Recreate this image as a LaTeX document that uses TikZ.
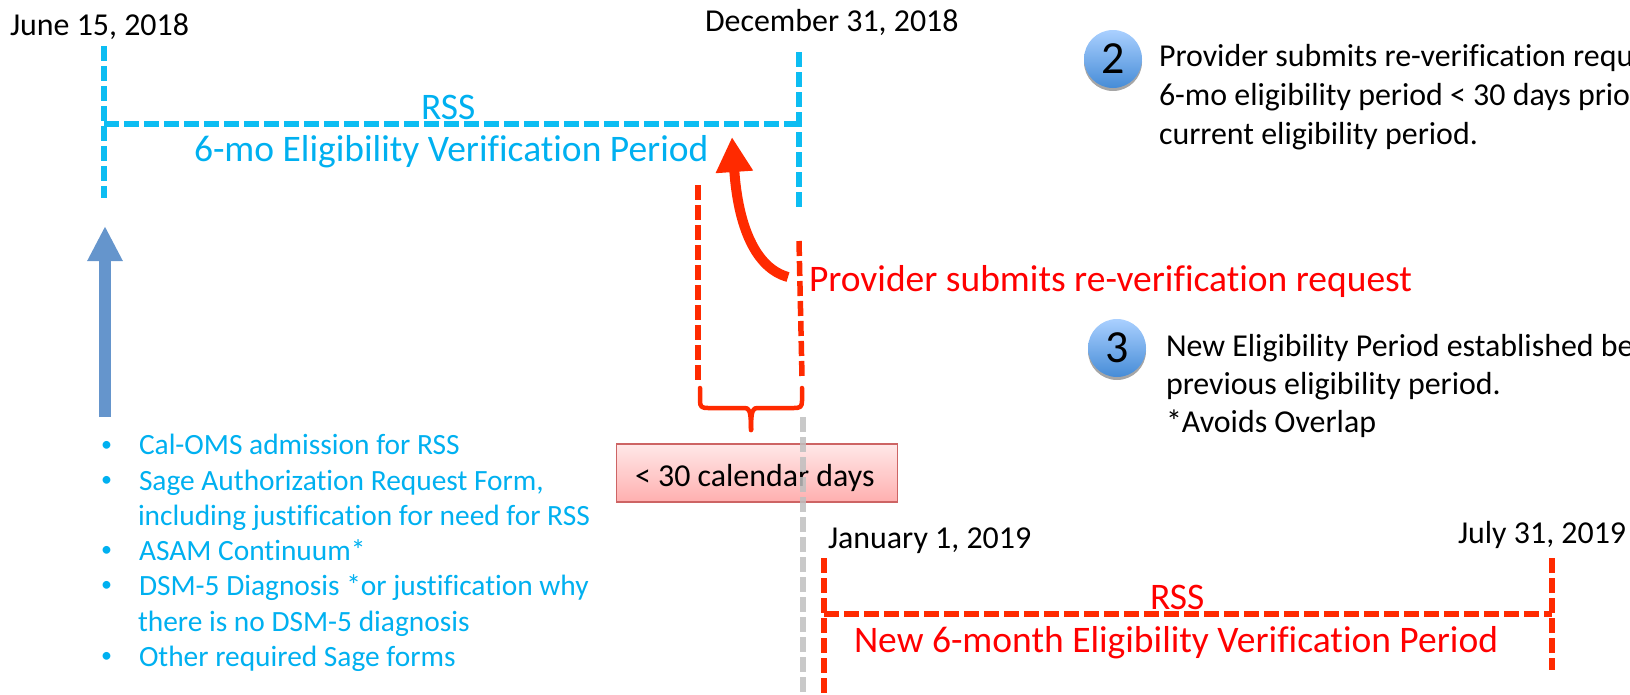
\documentclass[tikz,border=0pt]{standalone}
\usepackage{fontspec}
\setmainfont[Ligatures={NoCommon}]{Carlito}
\usetikzlibrary{arrows.meta,shadows,calc}
\definecolor{cblue}{HTML}{0DBDF2}
\definecolor{sblue}{HTML}{00B0F0}
\definecolor{cred}{HTML}{FF2A00}
\definecolor{tred}{HTML}{FF0000}
\definecolor{arrblue}{HTML}{6595CC}
\tikzset{
  x=1pt,y=-1pt,
  lbl/.style={inner sep=0pt,outer sep=0pt,anchor=base west,font=\fontsize{31.9}{31.9}\selectfont,text=black},
  bluelbl/.style={lbl,text=sblue,font=\fontsize{29.4}{29.4}\selectfont},
  bulletlbl/.style={lbl,text=sblue,font=\fontsize{22}{22}\selectfont},
  bigblue/.style={lbl,text=sblue,font=\fontsize{37.5}{37.5}\selectfont},
  bigred/.style={lbl,text=tred,font=\fontsize{37.5}{37.5}\selectfont},
  bluedash/.style={draw=cblue,line width=5.5pt,dash pattern=on 15pt off 5pt},
  reddash/.style={draw=cred,line width=5.5pt,dash pattern=on 15pt off 5pt},
  greydash/.style={draw=black!25,opacity=.85,line width=5.5pt,dash pattern=on 15pt off 5pt},
  numball/.style={circle,minimum size=58pt,inner sep=0pt,draw=none,
    top color={rgb,255:red,170;green,208;blue,255},bottom color={rgb,255:red,70;green,140;blue,215},
    drop shadow={shadow xshift=0pt,shadow yshift=-3pt,opacity=.35,fill=black},
    font=\fontsize{46}{46}\selectfont,text=black},
  daysbox/.style={draw={rgb,255:red,205;green,100;blue,100},line width=1.5pt,inner sep=0pt,
    top color={rgb,255:red,255;green,232;blue,232},bottom color={rgb,255:red,255;green,175;blue,175}},
}
\begin{document}
\begin{tikzpicture}
\useasboundingbox (0,0) rectangle (1630,694);
\clip (0,0) rectangle (1630,694);
% top timeline
\coordinate (bl1) at (104,46); \coordinate (bl2) at (104,198);
\coordinate (bm1) at (104,124); \coordinate (bm2) at (800,124);
\coordinate (br1) at (799,52); \coordinate (br2) at (799,210);
\draw[bluedash] (bl1) -- (bl2);
\draw[bluedash] (bm1) -- (bm2);
\draw[bluedash] (br1) -- (br2);
\node[lbl] (d1) at (10,35) {June 15, 2018};
\node[lbl] (d2) at (705,31) {December 31, 2018};
\node[bigblue] (rss1) at (421,119) {RSS};
\node[bigblue] (p1) at (194,161) {6-mo Eligibility Verification Period};
% blue arrow
\coordinate (ba1) at (105,417); \coordinate (ba2) at (105,226);
\draw[arrblue,line width=12pt,-{Triangle[length=35pt,width=33pt]}] (ba1) -- (ba2);
% bullets
\node[bulletlbl] (bula) at (101,451) {•};
\node[bulletlbl] (bulb) at (101,486) {•};
\node[bulletlbl] (buld) at (101,556) {•};
\node[bulletlbl] (bule) at (101,591) {•};
\node[bulletlbl] (bulg) at (101,662) {•};
\node[bluelbl] (ta) at (139,454) {Cal-OMS admission for RSS};
\node[bluelbl] (tb) at (139,490) {Sage Authorization Request Form,};
\node[bluelbl] (tc) at (138,525) {including justification for need for RSS};
\node[bluelbl] (td) at (139,560) {ASAM Continuum*};
\node[bluelbl] (te) at (139,595) {DSM-5 Diagnosis *or justification why};
\node[bluelbl] (tf) at (138,631) {there is no DSM-5 diagnosis};
\node[bluelbl] (tg) at (139,666) {Other required Sage forms};
% red bracket
\coordinate (rl1) at (698,185); \coordinate (rl2) at (698,382);
\coordinate (rr1) at (799,241); \coordinate (rr2) at (802,377);
\draw[reddash] (rl1) -- (rl2);
\draw[reddash] (rr1) -- (rr2);
\coordinate (bra) at (700,388); \coordinate (brb) at (802,388); \coordinate (brs) at (751,430);
\draw[cred,line width=4.5pt,line cap=round,line join=round]
  (bra) -- (700,401) .. controls (700,407) and (702,408) .. (708,408)
  -- (744,408) .. controls (749,408) and (751,409) .. (brs);
\draw[cred,line width=4.5pt,line cap=round,line join=round]
  (brb) -- (802,401) .. controls (802,407) and (800,408) .. (794,408)
  -- (758,408) .. controls (753,408) and (751,409) .. (brs);
% days box
\node[daysbox,minimum width=281pt,minimum height=58pt] (days) at (757,473) {};
\node[lbl] (dayst) at (635,486) {< 30 calendar days};
\coordinate (g1) at (803,417); \coordinate (g2) at (803,694);
\draw[greydash] (g1) -- (g2);
% curved arrow
\coordinate (ca1) at (788,277); \coordinate (ca2) at (732,137);
\draw[cred,line width=10pt,-{Triangle[length=35pt,width=35pt]}] (ca1) .. controls (755,268) and (738,225) .. (ca2);
\node[bigred] (prov) at (809,291) {Provider submits re-verification request};
% bottom timeline
\coordinate (nl1) at (824,558); \coordinate (nl2) at (824,694);
\coordinate (nm1) at (824,614); \coordinate (nm2) at (1552,614);
\coordinate (nr1) at (1552,558); \coordinate (nr2) at (1552,670);
\draw[reddash] (nl1) -- (nl2);
\draw[reddash] (nm1) -- (nm2);
\draw[reddash] (nr1) -- (nr2);
\node[lbl] (d3) at (828,548) {January 1, 2019};
\node[lbl] (d4) at (1458,543) {July 31, 2019};
\node[bigred] (rss2) at (1150,609) {RSS};
\node[bigred] (p2) at (854,652) {New 6-month Eligibility Verification Period};
% numbered notes
\node[numball] (n2) at (1113,59) {2};
\node[numball] (n3) at (1117,348) {3};
\node[lbl] (s21) at (1159,66) {Provider submits re-verification requ};
\node[lbl] (s22) at (1159,105) {6-mo eligibility period < 30 days prio};
\node[lbl] (s23) at (1159,144) {current eligibility period.};
\node[lbl] (s31) at (1166,356) {New Eligibility Period established be};
\node[lbl] (s32) at (1166,394) {previous eligibility period.};
\node[lbl] (s33) at (1166,432) {*Avoids Overlap};
\end{tikzpicture}
\end{document}
